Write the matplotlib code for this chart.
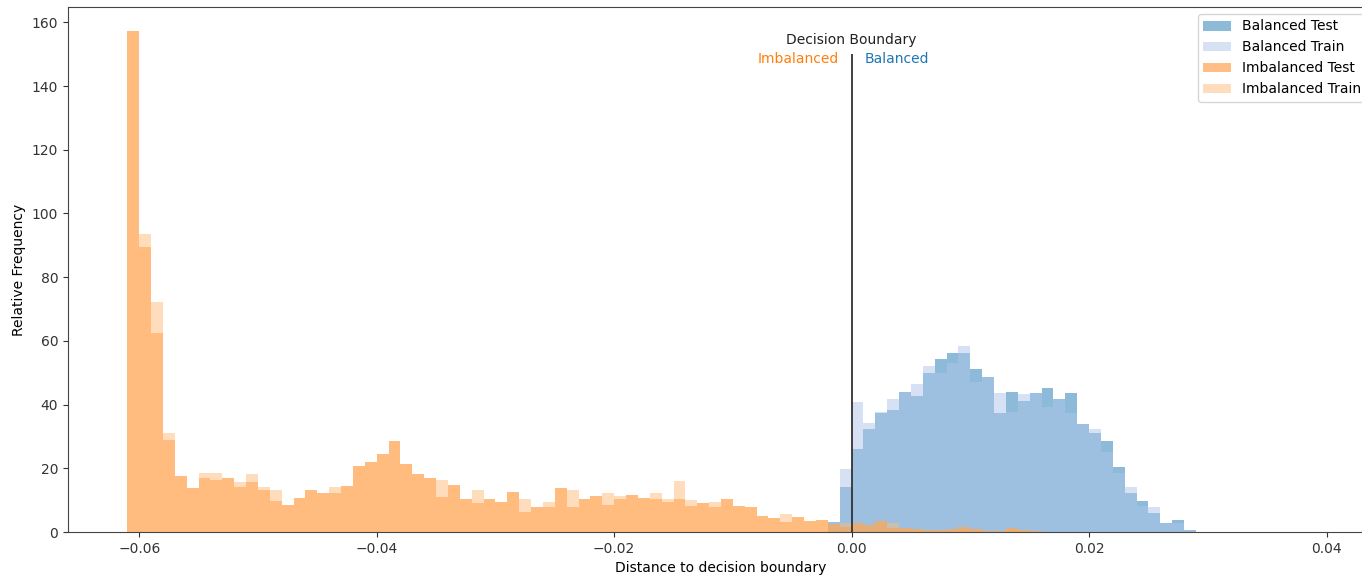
import numpy as np
import matplotlib
matplotlib.use("Agg")
import matplotlib.pyplot as plt

# Shared histogram bin edges (width 0.001 starting at -0.061)
bin_start = -0.061
bin_width = 0.001
n_bins = 90

# Imbalanced (orange) heights, bins 0..76
imb_test = [157.2, 89.5, 62.4, 29.0, 17.7, 13.7, 17.0, 16.3, 16.8, 14.0,
            15.7, 13.2, 9.7, 8.5, 10.6, 13.2, 12.3, 12.3, 14.3, 20.8,
            21.9, 24.6, 28.6, 21.2, 18.2, 16.8, 11.1, 14.6, 10.4, 9.0,
            10.4, 9.5, 12.5, 6.2, 7.9, 7.9, 13.7, 7.9, 10.5, 11.4,
            8.4, 10.5, 11.5, 10.8, 10.4, 9.4, 10.4, 8.2, 9.0, 7.9,
            10.5, 8.3, 7.9, 4.9, 4.3, 3.0, 4.8, 3.5, 3.9, 2.5,
            1.7, 2.7, 2.2, 3.4, 1.3, 1.3, 0.9, 0.7, 0.7, 0.9,
            1.5, 0.9, 0.3, 0.3, 1.1, 0.5, 0.3]
imb_train = [157.2, 93.4, 72.3, 31.0, 17.7, 13.7, 18.6, 18.4, 16.8, 15.8,
             18.1, 14.2, 13.2, 8.5, 10.6, 13.2, 12.3, 14.2, 14.3, 20.8,
             21.9, 24.6, 28.6, 21.2, 18.2, 16.8, 16.3, 14.6, 10.4, 13.2,
             10.4, 9.5, 12.5, 10.4, 7.9, 9.3, 13.7, 13.2, 10.5, 11.4,
             12.1, 11.3, 11.5, 10.8, 12.1, 10.4, 15.9, 9.9, 9.0, 9.3,
             10.5, 8.3, 7.9, 4.9, 4.3, 5.5, 4.8, 3.5, 3.9, 2.5,
             2.7, 2.7, 2.2, 3.4, 2.7, 1.3, 0.9, 0.7, 0.7, 0.9,
             1.5, 0.9, 0.3, 0.3, 1.1, 0.5, 0.3]

# Balanced (blue) heights, bins 59..89
bal_first_bin = 59
bal_test = [3.0, 14.2, 26.2, 32.3, 37.3, 38.3, 44.0, 42.8, 50.0, 54.2,
            56.1, 56.1, 51.3, 48.7, 37.2, 44.0, 41.1, 43.7, 45.3, 41.6,
            43.5, 33.9, 31.2, 28.5, 20.5, 12.1, 9.8, 6.1, 2.9, 3.8, 0.6]
bal_train = [3.2, 19.7, 40.9, 34.3, 37.7, 41.6, 44.0, 46.4, 52.1, 50.0,
             52.9, 58.4, 47.2, 48.7, 43.5, 37.7, 43.2, 43.7, 39.3, 41.6,
             37.2, 33.9, 32.2, 25.2, 18.4, 14.0, 8.3, 7.9, 2.9, 2.7, 0.6]

x_ticks = [-0.06, -0.04, -0.02, 0.00, 0.02, 0.04]
y_ticks = [0, 20, 40, 60, 80, 100, 120, 140, 160]

edges = bin_start + bin_width * np.arange(n_bins + 1)
imb_edges = edges[:len(imb_test) + 1]
bal_edges = edges[bal_first_bin:bal_first_bin + len(bal_test) + 1]

fig = plt.figure(figsize=(13.62, 5.8), dpi=100)
ax = fig.add_axes([68 / 1362, 48 / 580, 1306 / 1362, 525 / 580])

ax.hist(bal_edges[:-1], bins=bal_edges, weights=bal_test, histtype='stepfilled',
        color='#1f77b4', alpha=0.5, label='Balanced Test')
ax.hist(bal_edges[:-1], bins=bal_edges, weights=bal_train, histtype='stepfilled',
        color='#aec7e8', alpha=0.5, label='Balanced Train')
ax.hist(imb_edges[:-1], bins=imb_edges, weights=imb_test, histtype='stepfilled',
        color='#ff7f0e', alpha=0.5, label='Imbalanced Test')
ax.hist(imb_edges[:-1], bins=imb_edges, weights=imb_train, histtype='stepfilled',
        color='#ffbb78', alpha=0.5, label='Imbalanced Train')

ax.vlines(0, 0, 150, color='#333333', linewidth=1.3)
ax.text(0, 154.5, 'Decision Boundary', ha='center', va='center', fontsize=10, color='#222222')
ax.text(-0.0011, 148.4, 'Imbalanced', ha='right', va='center', fontsize=10, color='#ff7f0e')
ax.text(0.0011, 148.4, 'Balanced', ha='left', va='center', fontsize=10, color='#1f77b4')

ax.set_xlim(-0.066, 0.044)
ax.set_ylim(0, 164.8)
ax.set_xticks(x_ticks)
ax.set_yticks(y_ticks)
ax.set_xlabel('Distance to decision boundary', fontsize=10)
ax.set_ylabel('Relative Frequency', fontsize=10)
ax.tick_params(labelsize=10, colors='#333333')
for s in ax.spines.values():
    s.set_color('#444444')
ax.legend(loc='upper right', fontsize=10)

fig.savefig('out.png', dpi=100)
